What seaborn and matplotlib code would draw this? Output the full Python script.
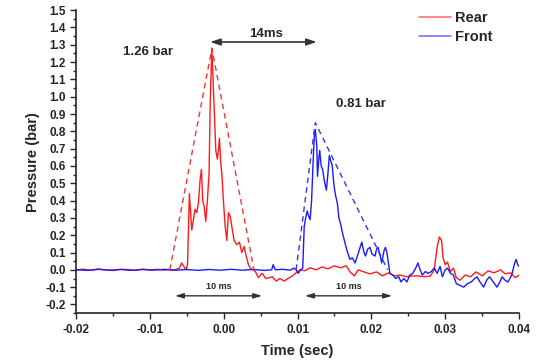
import numpy as np
import pandas as pd
import seaborn as sns
import matplotlib.pyplot as plt

# Rear sensor (red)
rear_t = [-0.0200, -0.0190, -0.0180, -0.0170, -0.0160, -0.0150, -0.0140, -0.0130, -0.0120, -0.0110,
          -0.0100, -0.0090, -0.0080, -0.0075, -0.0070, -0.0065, -0.0060, -0.0057, -0.0054, -0.0051,
          -0.0049, -0.00465, -0.00433, -0.0041, -0.00388, -0.00365, -0.00343, -0.0032, -0.00302, -0.00284,
          -0.00266, -0.00243, -0.00221, -0.00198, -0.00184, -0.00161, -0.00148, -0.0013, -0.00107, -0.00086,
          -0.00072, -0.00058, -0.0004, -0.00026, -0.00004, 0.0002, 0.00042, 0.00064, 0.00087, 0.0011,
          0.00141, 0.00178, 0.00213, 0.00245, 0.00276, 0.00304, 0.00335, 0.0036, 0.0043, 0.0047,
          0.0052, 0.0057, 0.0066, 0.0071, 0.0076, 0.0082, 0.0087, 0.0093, 0.0098, 0.0103,
          0.0110, 0.0117, 0.0125, 0.0133, 0.0141, 0.0150, 0.0158, 0.0166, 0.0171, 0.0177,
          0.0182, 0.0190, 0.0198, 0.0207, 0.0215, 0.0223, 0.0231, 0.0239, 0.0247, 0.0255,
          0.0263, 0.0272, 0.0280, 0.0285, 0.0289, 0.0292, 0.0295, 0.0297, 0.0300, 0.0303,
          0.0307, 0.0311, 0.0315, 0.0320, 0.0327, 0.0334, 0.0342, 0.0350, 0.0358, 0.0366,
          0.0375, 0.0381, 0.0388, 0.0395, 0.0400]
rear_p = [0.000, 0.004, -0.003, 0.005, 0.000, -0.004, 0.003, 0.002, -0.003, 0.004,
          0.000, 0.003, -0.002, 0.002, -0.003, 0.002, 0.010, 0.040, 0.020, 0.000,
          0.030, 0.440, 0.230, 0.290, 0.350, 0.330, 0.385, 0.520, 0.580, 0.400,
          0.370, 0.280, 0.400, 0.560, 0.940, 1.280, 1.140, 0.940, 0.690, 0.640,
          0.690, 0.760, 0.620, 0.560, 0.400, 0.250, 0.170, 0.330, 0.310, 0.250,
          0.170, 0.145, 0.160, 0.100, 0.135, 0.080, 0.030, 0.010, -0.010, -0.045,
          -0.020, -0.050, -0.040, -0.065, -0.050, -0.065, -0.050, -0.035, -0.017, 0.000,
          -0.005, 0.012, 0.000, 0.017, 0.006, 0.023, 0.012, 0.023, -0.012, -0.035,
          0.000, -0.012, -0.023, -0.012, -0.035, -0.017, -0.035, -0.030, -0.040, -0.035,
          -0.035, -0.040, -0.035, 0.000, 0.130, 0.190, 0.170, 0.070, 0.030, 0.045,
          -0.010, 0.010, -0.045, -0.060, -0.030, -0.040, -0.012, -0.035, -0.006, -0.017,
          0.000, -0.023, -0.017, -0.045, -0.030]

# Front sensor (blue)
front_t = [-0.0200, -0.0185, -0.0170, -0.0155, -0.0140, -0.0125, -0.0110, -0.0095, -0.0080, -0.0065,
           -0.0050, -0.0035, -0.0020, -0.0005, 0.0010, 0.0025, 0.0040, 0.0055, 0.0065, 0.0067,
           0.0070, 0.0080, 0.0090, 0.0095, 0.0098, 0.0101, 0.0104, 0.0107, 0.0109, 0.0111,
           0.0113, 0.0115, 0.0117, 0.0119, 0.0121, 0.0123, 0.0124, 0.0126, 0.0127, 0.0129,
           0.0130, 0.0132, 0.0134, 0.0136, 0.0139, 0.0141, 0.0143, 0.0145, 0.0147, 0.0149,
           0.0151, 0.0154, 0.0156, 0.0158, 0.0161, 0.0164, 0.0167, 0.0171, 0.0174, 0.0178,
           0.0181, 0.0184, 0.0187, 0.0190, 0.0192, 0.0195, 0.0198, 0.0201, 0.0205, 0.0207,
           0.0209, 0.0212, 0.0214, 0.0217, 0.0219, 0.0221, 0.0223, 0.0225, 0.0229, 0.0233,
           0.0237, 0.0240, 0.0244, 0.0248, 0.0252, 0.0256, 0.0260, 0.0263, 0.0266, 0.0269,
           0.0273, 0.0277, 0.0281, 0.0285, 0.0289, 0.0293, 0.0296, 0.0300, 0.0303, 0.0307,
           0.0311, 0.0315, 0.0320, 0.0325, 0.0330, 0.0335, 0.0340, 0.0343, 0.0347, 0.0352,
           0.0356, 0.0360, 0.0365, 0.0370, 0.0374, 0.0377, 0.0381, 0.0385, 0.0390, 0.0394,
           0.0396, 0.0398, 0.0400]
front_p = [0.000, -0.003, 0.003, -0.002, 0.002, -0.003, 0.002, -0.002, 0.003, -0.002,
           0.002, -0.003, 0.002, -0.002, 0.003, -0.002, 0.002, -0.003, 0.000, 0.030,
           0.000, 0.003, -0.002, 0.010, 0.000, -0.020, 0.000, 0.010, 0.250, 0.300,
           0.340, 0.310, 0.290, 0.400, 0.620, 0.800, 0.810, 0.720, 0.540, 0.650,
           0.690, 0.600, 0.580, 0.520, 0.460, 0.550, 0.660, 0.630, 0.600, 0.500,
           0.440, 0.380, 0.300, 0.270, 0.210, 0.160, 0.110, 0.060, 0.070, 0.040,
           0.080, 0.120, 0.160, 0.100, 0.080, 0.120, 0.130, 0.090, 0.080, 0.120,
           0.130, 0.080, 0.040, 0.110, 0.130, 0.100, 0.040, -0.020, -0.030, -0.050,
           -0.040, -0.070, -0.050, -0.070, -0.030, -0.020, 0.010, 0.040, 0.000, -0.030,
           -0.010, -0.020, -0.010, 0.010, -0.020, 0.020, -0.040, 0.000, 0.010, -0.020,
           -0.030, -0.080, -0.090, -0.100, -0.080, -0.070, -0.050, -0.040, -0.070, -0.100,
           -0.060, -0.040, -0.070, -0.100, -0.070, -0.040, -0.060, -0.070, -0.030, 0.040,
           0.060, 0.030, 0.020]

# dashed triangular envelopes
rear_env_t = [-0.0073, -0.0016, 0.0041]
rear_env_p = [0.0, 1.28, 0.0]
front_env_t = [0.0098, 0.0124, 0.0222]
front_env_p = [0.0, 0.85, 0.0]

rear = pd.DataFrame({"t": rear_t, "p": rear_p})
front = pd.DataFrame({"t": front_t, "p": front_p})
rear_env = pd.DataFrame({"t": rear_env_t, "p": rear_env_p})
front_env = pd.DataFrame({"t": front_env_t, "p": front_env_p})

sns.set_style("ticks")
plt.rcParams['font.family'] = ['Liberation Sans', 'DejaVu Sans']
plt.rcParams['font.weight'] = 'bold'

fig = plt.figure(figsize=(5.43, 3.62), dpi=100)
ax = fig.add_axes([0.14, 0.135, 0.816, 0.837])

sns.lineplot(data=rear, x="t", y="p", color="#ff1a1a", lw=1.0, sort=False, estimator=None, ax=ax, label="Rear")
sns.lineplot(data=front, x="t", y="p", color="#1a1aff", lw=1.0, sort=False, estimator=None, ax=ax, label="Front")
sns.lineplot(data=rear_env, x="t", y="p", color="#ff3333", lw=1.0, ls=(0, (4, 3)), sort=False, estimator=None, ax=ax)
sns.lineplot(data=front_env, x="t", y="p", color="#3333ff", lw=1.0, ls=(0, (4, 3)), sort=False, estimator=None, ax=ax)

ax.set_xlim(-0.02, 0.04)
ax.set_ylim(-0.25, 1.5)
ax.set_xticks([-0.02, -0.01, 0.0, 0.01, 0.02, 0.03, 0.04])
ax.set_xticklabels(["-0.02", "-0.01", "0.00", "0.01", "0.02", "0.03", "0.04"])
yt = np.round(np.arange(-0.2, 1.51, 0.1), 1)
ax.set_yticks(yt)
ax.set_yticklabels([f"{v:.1f}" for v in yt])
ax.set_xticks(np.arange(-0.015, 0.04, 0.01), minor=True)
ax.set_yticks(np.arange(-0.25, 1.5, 0.1), minor=True)
ax.tick_params(axis="both", which="major", length=4, width=1, labelsize=8.5, direction="out")
ax.tick_params(axis="both", which="minor", length=2.5, width=1, direction="out")
for lab in ax.get_xticklabels() + ax.get_yticklabels():
    lab.set_fontweight("bold")
sns.despine(ax=ax)
for s in ["left", "bottom"]:
    ax.spines[s].set_linewidth(1.2)

ax.set_xlabel("Time (sec)", fontsize=10.5, fontweight="bold", labelpad=6)
ax.set_ylabel("Pressure (bar)", fontsize=10.5, fontweight="bold")

arrow = dict(arrowstyle="<|-|>,head_length=0.6,head_width=0.2", color="#333333", lw=1.2, shrinkA=0, shrinkB=0)
ax.annotate("", xy=(-0.00184, 1.316), xytext=(0.0126, 1.316), arrowprops=arrow)
ax.text(0.0058, 1.33, "14ms", ha="center", va="bottom", fontsize=9.5, fontweight="bold")
ax.text(-0.0103, 1.256, "1.26 bar", ha="center", va="center", fontsize=9.5, fontweight="bold")
ax.text(0.0186, 0.96, "0.81 bar", ha="center", va="center", fontsize=9.5, fontweight="bold")

small = dict(arrowstyle="<|-|>,head_length=0.5,head_width=0.15", color="#333333", lw=1.0, shrinkA=0, shrinkB=0)
ax.annotate("", xy=(-0.0066, -0.15), xytext=(0.0052, -0.15), arrowprops=small)
ax.text(-0.0007, -0.12, "10 ms", ha="center", va="bottom", fontsize=6.5, fontweight="bold")
ax.annotate("", xy=(0.0110, -0.15), xytext=(0.0228, -0.15), arrowprops=small)
ax.text(0.0169, -0.12, "10 ms", ha="center", va="bottom", fontsize=6.5, fontweight="bold")

leg = ax.legend(loc="upper right", bbox_to_anchor=(0.97, 1.04), frameon=False, fontsize=10.5,
                handlelength=2.2, handletextpad=0.3, labelspacing=0.35)
for txt in leg.get_texts():
    txt.set_fontweight("bold")
for ln in leg.get_lines():
    ln.set_alpha(0.6)
    ln.set_linewidth(1.2)

fig.savefig("out.png", dpi=100)
